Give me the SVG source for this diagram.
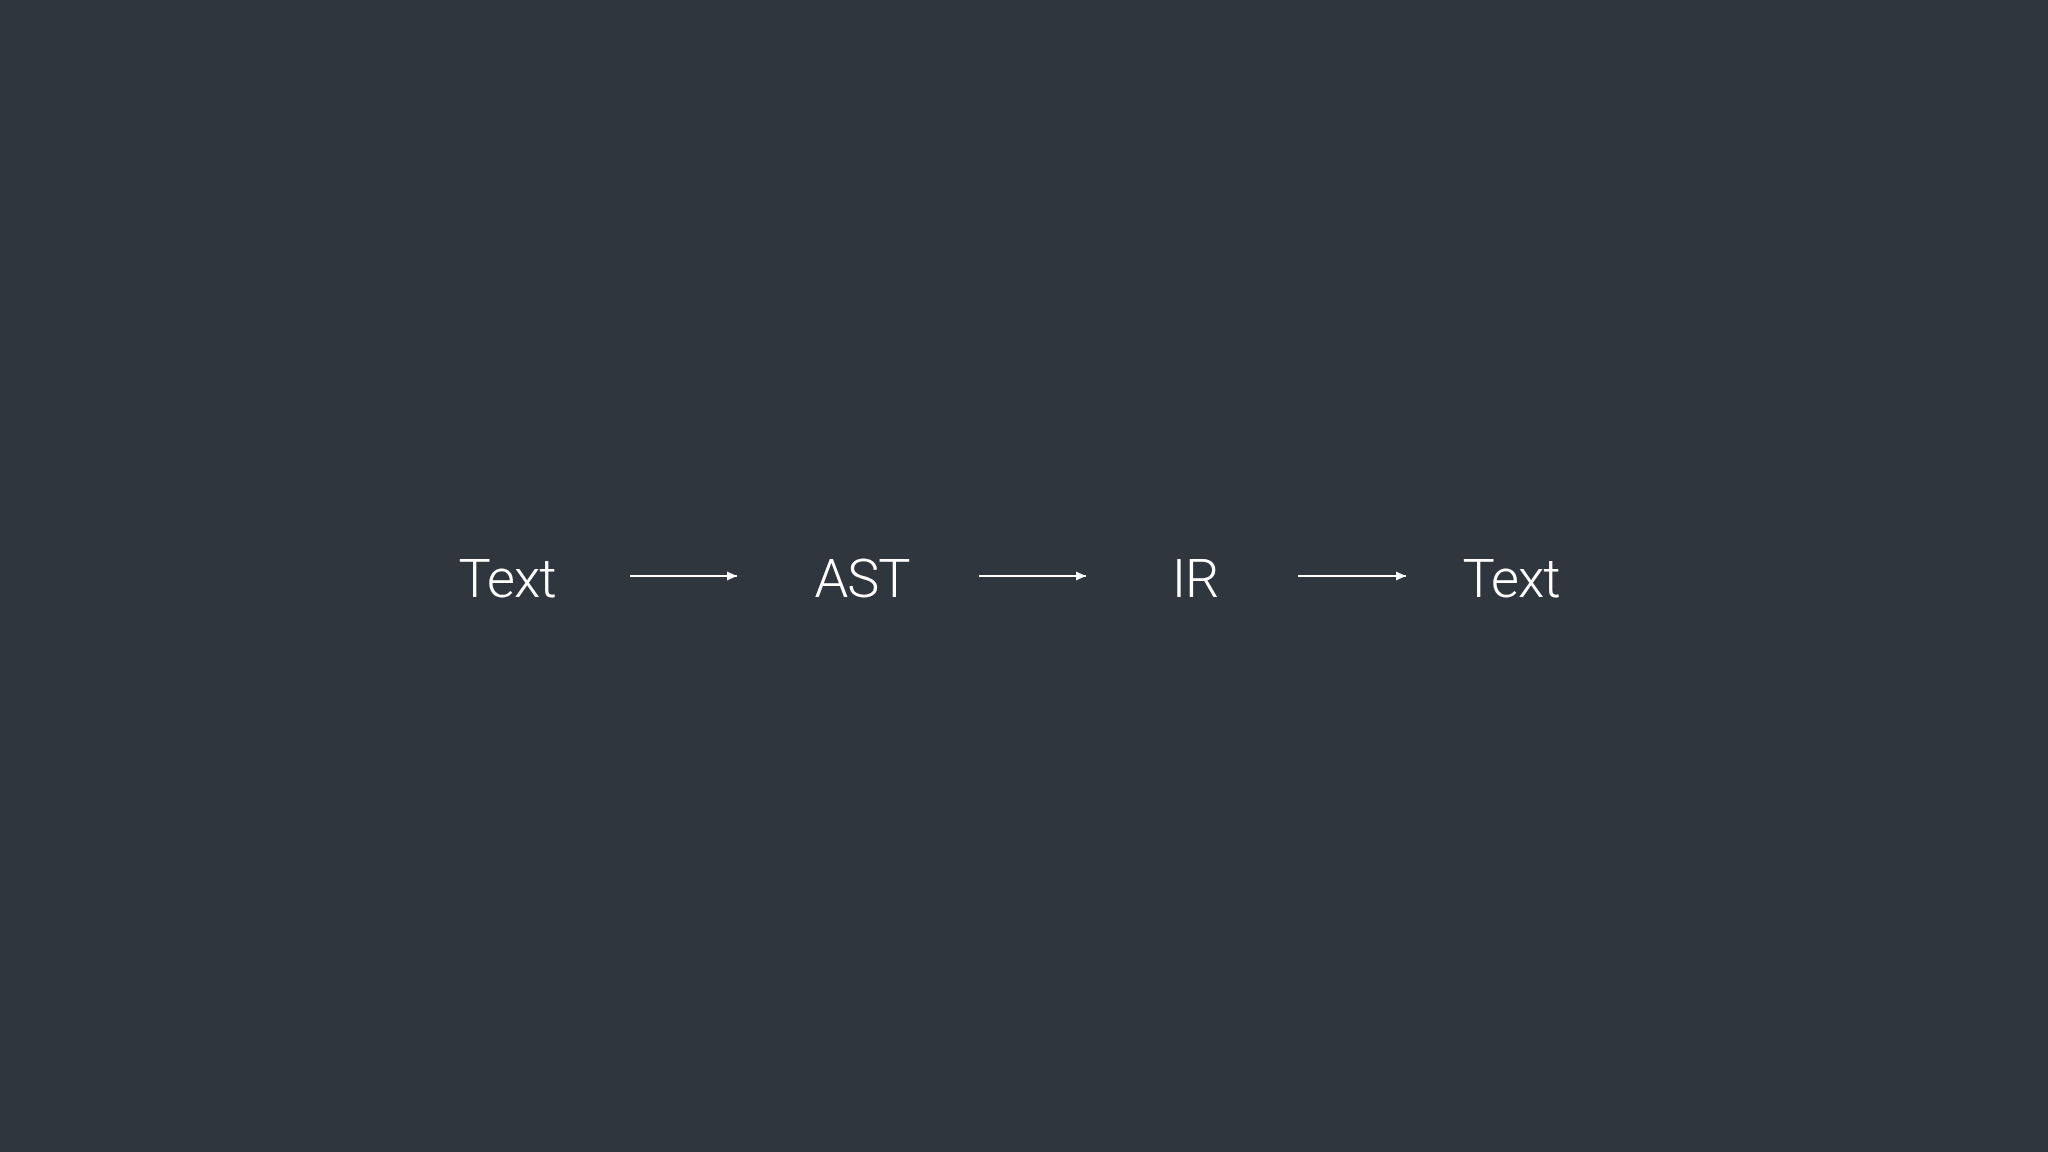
<svg xmlns="http://www.w3.org/2000/svg" width="2048" height="1152" viewBox="0 0 2048 1152">
<style>
.lbl{font-family:Roboto,"Liberation Sans",sans-serif;font-weight:300;font-size:54px;fill:#ffffff;text-anchor:middle;letter-spacing:-1px}
.con{stroke:#ffffff;stroke-width:2;fill:none}
</style>
<defs>
<marker id="ah" markerUnits="userSpaceOnUse" markerWidth="12" markerHeight="10" refX="10" refY="5" orient="auto">
<path d="M0,0.5 L10,5 L0,9.5 Z" fill="#ffffff"/>
</marker>
</defs>
<rect width="2048" height="1152" fill="#30363e"/>
<g id="connectors">
<line class="con" x1="630" y1="576" x2="737" y2="576" marker-end="url(#ah)"/>
<line class="con" x1="979" y1="576" x2="1086" y2="576" marker-end="url(#ah)"/>
<line class="con" x1="1298" y1="576" x2="1406" y2="576" marker-end="url(#ah)"/>
</g>
<g id="node-text1"><text class="lbl" x="507" y="597">Text</text></g>
<g id="node-ast"><text class="lbl" x="862" y="597">AST</text></g>
<g id="node-ir"><text class="lbl" x="1195" y="597">IR</text></g>
<g id="node-text2"><text class="lbl" x="1511" y="597">Text</text></g>
</svg>
